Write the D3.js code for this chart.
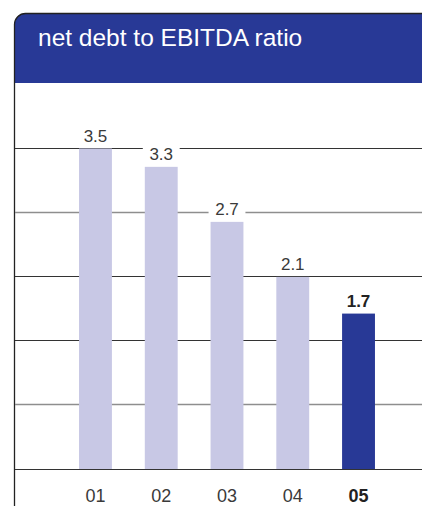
<!DOCTYPE html>
<html>
<head>
<meta charset="utf-8">
<script src="https://cdn.jsdelivr.net/npm/d3@7"></script>
<style>
  html, body { margin: 0; padding: 0; background: #fff; }
  svg { display: block; }
  text { font-family: "Liberation Sans", Arial, Helvetica, sans-serif; }
</style>
</head>
<body>
<script>
const title = "net debt to EBITDA ratio";
const categories = ["01", "02", "03", "04", "05"];
const values = [3.5, 3.3, 2.7, 2.1, 1.7];
const valueLabels = ["3.5", "3.3", "2.7", "2.1", "1.7"];
const gridTicks = [0, 0.7, 1.4, 2.1, 2.8, 3.5];
const highlight = "05";

const W = 422, H = 506;
const blue = "#283996", light = "#c8c8e5";

const svg = d3.select("body").append("svg").attr("width", W).attr("height", H);

// frame + header
const fx = 14.5, fy = 13.5, r = 11, headerBottom = 83;
svg.append("path")
  .attr("d", `M${fx},${headerBottom} L${fx},${fy + r} A${r},${r} 0 0 1 ${fx + r},${fy} L${W},${fy} L${W},${headerBottom} Z`)
  .attr("fill", blue);
svg.append("path")
  .attr("d", `M${fx},${H} L${fx},${fy + r} A${r},${r} 0 0 1 ${fx + r},${fy} L${W},${fy}`)
  .attr("fill", "none").attr("stroke", "#222").attr("stroke-width", 1.3);

svg.append("text").attr("x", 38).attr("y", 46)
  .attr("fill", "#fff").attr("font-size", 24.5).text(title);

const x = d3.scaleBand().domain(categories).range([62.6, 391.4]).paddingInner(0.5).paddingOuter(0.25);
const y = d3.scaleLinear().domain([0, 3.5]).range([469.5, 148.5]);

// grid
const grid = svg.append("g");
grid.selectAll("line").data(gridTicks).join("line")
  .attr("x1", 15).attr("x2", W)
  .attr("y1", d => Math.round(y(d)) - 0.5).attr("y2", d => Math.round(y(d)) - 0.5)
  .attr("stroke", (d, i) => (i === 1 || i === 4) ? "#8e8e8e" : "#333")
  .attr("stroke-width", (d, i) => (i === 1 || i === 4) ? 1.6 : 1.1);

const data = categories.map((c, i) => ({ c, v: values[i], label: valueLabels[i] }));

// bars
svg.append("g").selectAll("rect").data(data).join("rect")
  .attr("x", d => x(d.c)).attr("width", x.bandwidth())
  .attr("y", d => y(d.v)).attr("height", d => y(0) - 0.5 - y(d.v))
  .attr("fill", d => d.c === highlight ? blue : light);

// value labels with white knock-out
const lbl = svg.append("g");
lbl.selectAll("rect").data(data).join("rect")
  .attr("x", d => x(d.c) - 2).attr("width", x.bandwidth() + 4)
  .attr("y", d => y(d.v) - 23).attr("height", 18)
  .attr("fill", "#fff");
lbl.selectAll("text").data(data).join("text")
  .attr("x", d => x(d.c) + x.bandwidth() / 2).attr("y", d => y(d.v) - 7)
  .attr("text-anchor", "middle").attr("font-size", 17)
  .attr("font-weight", d => d.c === highlight ? "bold" : "normal")
  .attr("fill", d => d.c === highlight ? "#222" : "#3a3a3a")
  .text(d => d.label);

// x axis labels
const xAxis = d3.axisBottom(x).tickSize(0).tickPadding(0);
const gx = svg.append("g").attr("transform", "translate(0,502)").call(xAxis);
gx.select(".domain").remove();
gx.selectAll(".tick text")
  .attr("font-size", 18).attr("dy", 0)
  .style("font-family", "'Liberation Sans', Arial, Helvetica, sans-serif")
  .attr("font-weight", d => d === highlight ? "bold" : "normal")
  .attr("fill", d => d === highlight ? "#222" : "#3a3a3a");
</script>
</body>
</html>
